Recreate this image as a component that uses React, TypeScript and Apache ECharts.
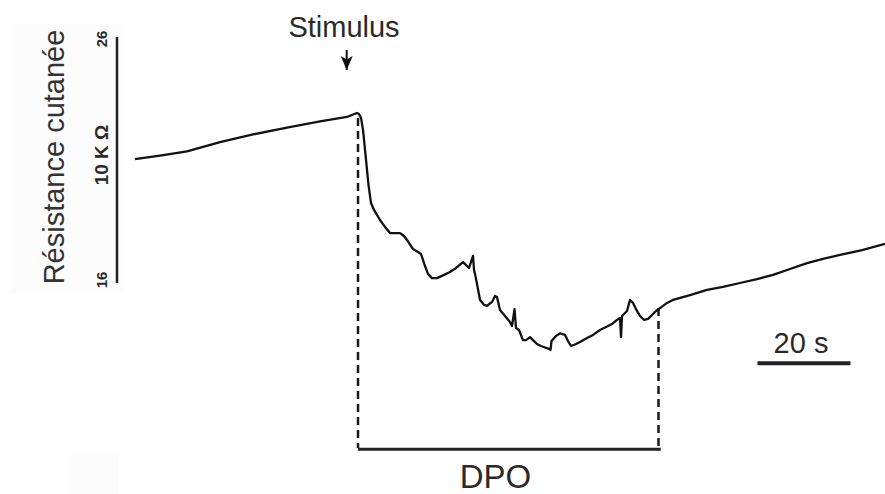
import React, { useEffect, useRef } from "react";
import * as echarts from "echarts";

// Time (s, 0 = stimulus) and skin resistance (kΩ)
const traceTime: number[] = [
  -47.96, -42.58, -36.77, -29.68, -22.58, -15.27, -8.17, -2.37, -1.08, -0.22,
  0.22, 0.65, 1.08, 1.51, 1.94, 2.26, 2.8, 3.44, 4.73, 5.81,
  6.88, 7.96, 9.03, 9.89, 10.54, 11.83, 12.9, 13.55, 14.41, 15.05,
  15.91, 16.99, 18.49, 19.78, 21.08, 22.58, 23.44, 23.87, 24.73, 24.95,
  25.16, 25.59, 26.24, 27.1, 27.74, 28.82, 29.46, 29.89, 30.54, 31.61,
  32.69, 33.12, 33.66, 33.98, 34.62, 35.48, 36.13, 36.99, 37.63, 38.49,
  39.35, 40.22, 41.08, 41.4, 41.61, 42.58, 43.44, 44.52, 45.16, 45.81,
  46.88, 47.74, 49.25, 50.54, 52.04, 53.33, 54.62, 55.7, 56.34, 56.56,
  56.77, 57.85, 58.49, 59.14, 59.78, 60.65, 61.51, 62.37, 63.23, 64.09,
  64.95, 66.45, 67.74, 71.4, 75.05, 78.49, 82.15, 85.81, 89.25, 92.9,
  96.56, 100.0, 103.66, 108.39, 113.33,
];
const traceResistance: number[] = [
  21.04, 21.18, 21.35, 21.73, 22.04, 22.32, 22.57, 22.75, 22.85, 22.91,
  22.87, 22.71, 22.22, 21.41, 20.59, 19.98, 19.25, 18.97, 18.56, 18.28,
  18.03, 18.03, 18.03, 17.91, 17.75, 17.38, 17.26, 17.18, 16.69, 16.37,
  16.2, 16.2, 16.33, 16.45, 16.61, 16.85, 16.69, 16.61, 17.1, 16.53,
  16.37, 15.96, 15.31, 15.11, 15.07, 15.23, 15.47, 15.43, 14.9, 14.66,
  14.41, 14.25, 14.94, 14.17, 14.09, 13.68, 13.68, 13.8, 13.68, 13.52,
  13.44, 13.38, 13.32, 13.28, 13.64, 13.85, 13.95, 13.89, 13.64, 13.44,
  13.52, 13.6, 13.76, 13.89, 14.09, 14.21, 14.33, 14.5, 14.58, 13.8,
  14.66, 14.86, 15.31, 15.19, 14.94, 14.66, 14.5, 14.54, 14.7, 14.86,
  14.98, 15.19, 15.31, 15.51, 15.72, 15.84, 16.0, 16.16, 16.33, 16.57,
  16.81, 16.98, 17.14, 17.34, 17.59,
];

// Annotation values (time s, resistance kΩ)
const stimulusTime = 0;
const dpoEndTime = 64.62;
const dpoStartResistance = 22.71;
const dpoEndResistance = 14.98;
const dpoBarLevel = 9.24;
const dpoBarEnd = 65.1;
const dashBottom = 9.29;
const resistanceScale: number[] = [16, 26];
const resistanceScaleTime = -51.83;
const timeScale: number[] = [85.9, 105.9];
const timeScaleLevel = 12.74;
const arrowTime = -2.43;
const arrowFrom = 25.47;
const arrowTo = 24.66;

const xMin = -76.99;
const xMax = 113.33;
const yMin = 7.423;
const yMax = 27.504;

const FONT = "'Liberation Sans', Arial, sans-serif";
const TEXT_COLOR = "#2a2a2a";

export default function App() {
  const ref = useRef<HTMLDivElement>(null);

  useEffect(() => {
    if (!ref.current) return;
    const chart = echarts.init(ref.current, undefined, { renderer: "svg" });

    const trace = traceTime.map((t, i) => [t, traceResistance[i]]);
    const plainLine = (data: any[], width: number, type: any = "solid", color = "#1a1a1a", z = 2) => ({
      type: "line",
      data,
      showSymbol: false,
      symbol: "none",
      silent: true,
      z,
      lineStyle: { color, width, type, cap: "butt" },
    });

    chart.setOption({
      animation: false,
      backgroundColor: "#ffffff",
      grid: { left: 0, right: 0, top: 0, bottom: 0, containLabel: false },
      xAxis: {
        type: "value",
        min: xMin,
        max: xMax,
        show: false,
        splitLine: { show: false },
      },
      yAxis: {
        type: "value",
        min: yMin,
        max: yMax,
        show: false,
        splitLine: { show: false },
      },
      graphic: [
        { type: "rect", z: -1, shape: { x: 10, y: 24, width: 115, height: 270 }, style: { fill: "#fcfcfc" } },
        { type: "rect", z: -1, shape: { x: 67, y: 455, width: 52, height: 39 }, style: { fill: "#fcfcfc" } },
        {
          type: "text",
          x: 54,
          y: 157,
          rotation: Math.PI / 2,
          style: { text: "Résistance cutanée", font: `29px ${FONT}`, fill: "#333", align: "center", verticalAlign: "middle" },
        },
        {
          type: "text",
          x: 101,
          y: 39,
          rotation: Math.PI / 2,
          style: { text: "26", font: `bold 15px ${FONT}`, fill: TEXT_COLOR, align: "center", verticalAlign: "middle" },
        },
        {
          type: "text",
          x: 101,
          y: 280,
          rotation: Math.PI / 2,
          style: { text: "16", font: `bold 15px ${FONT}`, fill: TEXT_COLOR, align: "center", verticalAlign: "middle" },
        },
        {
          type: "text",
          x: 101,
          y: 155,
          rotation: Math.PI / 2,
          style: { text: "10 K Ω", font: `bold 19px ${FONT}`, fill: TEXT_COLOR, align: "center", verticalAlign: "middle" },
        },
        {
          type: "text",
          x: 344,
          y: 27,
          style: { text: "Stimulus", font: `29px ${FONT}`, fill: TEXT_COLOR, align: "center", verticalAlign: "middle" },
        },
        {
          type: "text",
          x: 801,
          y: 343,
          style: { text: "20 s", font: `29px ${FONT}`, fill: TEXT_COLOR, align: "center", verticalAlign: "middle" },
        },
        {
          type: "text",
          x: 495.5,
          y: 476,
          style: { text: "DPO", font: `33px ${FONT}`, fill: TEXT_COLOR, align: "center", verticalAlign: "middle" },
        },
      ],
      series: [
        plainLine(
          [
            [stimulusTime, dpoStartResistance],
            [stimulusTime, dashBottom],
          ],
          2.5,
          [8, 5],
          "#1a1a1a",
          1
        ),
        plainLine(
          [
            [dpoEndTime, dpoEndResistance],
            [dpoEndTime, dashBottom],
          ],
          2.5,
          [8, 5],
          "#1a1a1a",
          1
        ),
        plainLine(
          [
            [stimulusTime, dpoBarLevel],
            [dpoBarEnd, dpoBarLevel],
          ],
          3,
          "solid",
          "#222"
        ),
        plainLine(
          resistanceScale.map((r) => [resistanceScaleTime, r]),
          2.5,
          "solid",
          "#222"
        ),
        plainLine(
          timeScale.map((t) => [t, timeScaleLevel]),
          4,
          "solid",
          "#222"
        ),
        {
          type: "line",
          silent: true,
          showSymbol: true,
          lineStyle: { color: "#111", width: 2 },
          itemStyle: { color: "#111" },
          data: [
            { value: [arrowTime, arrowFrom], symbol: "none" },
            { value: [arrowTime, arrowTo], symbol: "arrow", symbolSize: [9, 14], symbolRotate: 180 },
          ],
          z: 3,
        },
        {
          type: "line",
          data: trace,
          showSymbol: false,
          symbol: "none",
          silent: true,
          z: 5,
          lineStyle: { color: "#111", width: 2.3, join: "round" },
        },
      ],
    });

    return () => chart.dispose();
  }, []);

  return (
    <div
      ref={ref}
      style={{ position: "absolute", left: 0, top: 0, width: 885, height: 494 }}
    />
  );
}
